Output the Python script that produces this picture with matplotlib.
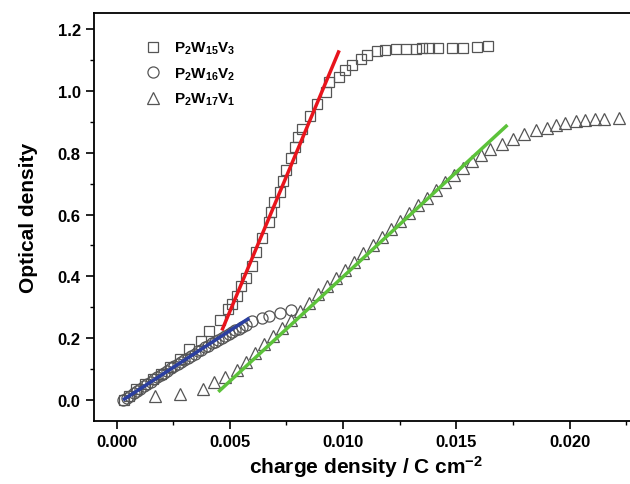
import numpy as np
import matplotlib.pyplot as plt

plt.rcParams['font.family'] = 'Liberation Sans'
plt.rcParams['font.weight'] = 'bold'
plt.rcParams['mathtext.fontset'] = 'custom'
plt.rcParams['mathtext.rm'] = 'Liberation Sans:bold'
plt.rcParams['mathtext.it'] = 'Liberation Sans:bold'
plt.rcParams['mathtext.bf'] = 'Liberation Sans:bold'

# P2W15V3 (squares)
sq_x = [0.00035, 0.00057, 0.00087, 0.00124, 0.0016, 0.00197, 0.00234, 0.00278,
        0.00322, 0.00374, 0.0041, 0.00458, 0.0049, 0.0051, 0.0053, 0.0055,
        0.0057, 0.00596, 0.00614, 0.00644, 0.00675, 0.00684, 0.00693, 0.0072,
        0.00733, 0.0075, 0.0077, 0.0079, 0.0080, 0.00817, 0.00852, 0.00887,
        0.00923, 0.0094, 0.0098, 0.01007, 0.0104, 0.01077, 0.01104, 0.01148,
        0.01183, 0.01232, 0.01276, 0.0132, 0.0135, 0.0138, 0.0142, 0.0148,
        0.0153, 0.0159, 0.0164]
sq_y = [0.0, 0.014, 0.036, 0.052, 0.068, 0.084, 0.107, 0.133,
        0.165, 0.192, 0.224, 0.260, 0.294, 0.310, 0.337, 0.369,
        0.395, 0.434, 0.479, 0.524, 0.576, 0.608, 0.641, 0.673,
        0.709, 0.745, 0.782, 0.818, 0.850, 0.877, 0.919, 0.958,
        0.997, 1.029, 1.045, 1.068, 1.084, 1.104, 1.117, 1.129,
        1.133, 1.136, 1.136, 1.136, 1.139, 1.139, 1.139, 1.139,
        1.139, 1.142, 1.146]

# P2W16V2 (circles)
ci_x = [0.00030, 0.00045, 0.00060, 0.00075, 0.00090, 0.00105, 0.00120, 0.00135,
        0.00150, 0.00165, 0.00180, 0.00195, 0.00210, 0.00225, 0.00240, 0.00255,
        0.00270, 0.00285, 0.00300, 0.00315, 0.00330, 0.00345, 0.00360, 0.00375,
        0.00390, 0.00405, 0.00420, 0.00435, 0.00450, 0.00465, 0.00480, 0.00495,
        0.00510, 0.00525, 0.00540, 0.00555, 0.00570, 0.00600, 0.00640, 0.00675,
        0.00720, 0.00770]
ci_y = [0.000, 0.006, 0.013, 0.021, 0.029, 0.037, 0.044, 0.052,
        0.059, 0.067, 0.074, 0.081, 0.088, 0.095, 0.102, 0.109,
        0.116, 0.123, 0.130, 0.137, 0.143, 0.150, 0.157, 0.163,
        0.170, 0.176, 0.183, 0.189, 0.195, 0.201, 0.207, 0.213,
        0.219, 0.225, 0.231, 0.237, 0.244, 0.257, 0.264, 0.272,
        0.282, 0.292]

# P2W17V1 (triangles)
tr_x = [0.00168, 0.0028, 0.0038, 0.0043, 0.0048, 0.0053, 0.0057, 0.0061,
        0.0065, 0.0069, 0.0073, 0.0077, 0.0081, 0.0085, 0.0089, 0.0093,
        0.0097, 0.0101, 0.0105, 0.0109, 0.0113, 0.0117, 0.0121, 0.0125,
        0.0129, 0.0133, 0.0137, 0.0141, 0.0145, 0.0149, 0.0153, 0.0157,
        0.0161, 0.0165, 0.0170, 0.0175, 0.0180, 0.0185, 0.0190, 0.0194,
        0.0198, 0.0203, 0.0207, 0.0211, 0.0215, 0.0222]
tr_y = [0.013, 0.020, 0.036, 0.058, 0.075, 0.097, 0.122, 0.152,
        0.180, 0.207, 0.233, 0.260, 0.288, 0.315, 0.342, 0.368,
        0.395, 0.421, 0.448, 0.474, 0.500, 0.527, 0.553, 0.579,
        0.605, 0.630, 0.655, 0.680, 0.705, 0.728, 0.752, 0.773,
        0.793, 0.812, 0.828, 0.845, 0.861, 0.872, 0.881, 0.890,
        0.897, 0.903, 0.906, 0.908, 0.909, 0.914]

# linear fits
red_x, red_y = [0.00468, 0.0098], [0.23, 1.126]
blue_x, blue_y = [0.00035, 0.0058], [0.003, 0.262]
green_x, green_y = [0.00455, 0.0172], [0.030, 0.886]

fig = plt.figure(figsize=(6.3, 4.85), dpi=100)
ax = fig.add_axes([0.149, 0.130, 0.863, 0.841])

mk = dict(linestyle='none', markerfacecolor='none', markeredgecolor='#555555',
          markeredgewidth=0.9)
ax.plot(sq_x, sq_y, marker='s', markersize=7, label=r'P$_2$W$_{15}$V$_3$', **mk)
ax.plot(ci_x, ci_y, marker='o', markersize=8, label=r'P$_2$W$_{16}$V$_2$', **mk)
ax.plot(tr_x, tr_y, marker='^', markersize=8.5, label=r'P$_2$W$_{17}$V$_1$', **mk)

ax.plot(red_x, red_y, color='#e8141c', lw=2.5)
ax.plot(blue_x, blue_y, color='#2b3fa0', lw=2.5)
ax.plot(green_x, green_y, color='#5cc23a', lw=2.5)

ax.set_xlim(-0.001, 0.023)
ax.set_ylim(-0.068, 1.252)
ax.set_xticks([0.0, 0.005, 0.010, 0.015, 0.020])
ax.set_xticklabels(['0.000', '0.005', '0.010', '0.015', '0.020'])
ax.set_yticks([0.0, 0.2, 0.4, 0.6, 0.8, 1.0, 1.2])
ax.set_yticklabels(['0.0', '0.2', '0.4', '0.6', '0.8', '1.0', '1.2'])
ax.set_xticks(np.arange(0.0025, 0.023, 0.005), minor=True)
ax.set_yticks(np.arange(0.1, 1.25, 0.2), minor=True)
ax.tick_params(which='major', direction='out', length=6, width=1.2, labelsize=12)
ax.tick_params(which='minor', direction='out', length=3, width=1.0)
for s in ax.spines.values():
    s.set_linewidth(1.3)

ax.set_xlabel(r'charge density / C cm$^{-2}$', fontsize=15, fontweight='bold', labelpad=3)
ax.set_ylabel('Optical density', fontsize=15, fontweight='bold', labelpad=14)

ax.legend(loc='upper left', frameon=False, fontsize=11, handletextpad=0.4,
          labelspacing=0.6, bbox_to_anchor=(0.055, 0.968))

fig.savefig('out.png', dpi=100)
